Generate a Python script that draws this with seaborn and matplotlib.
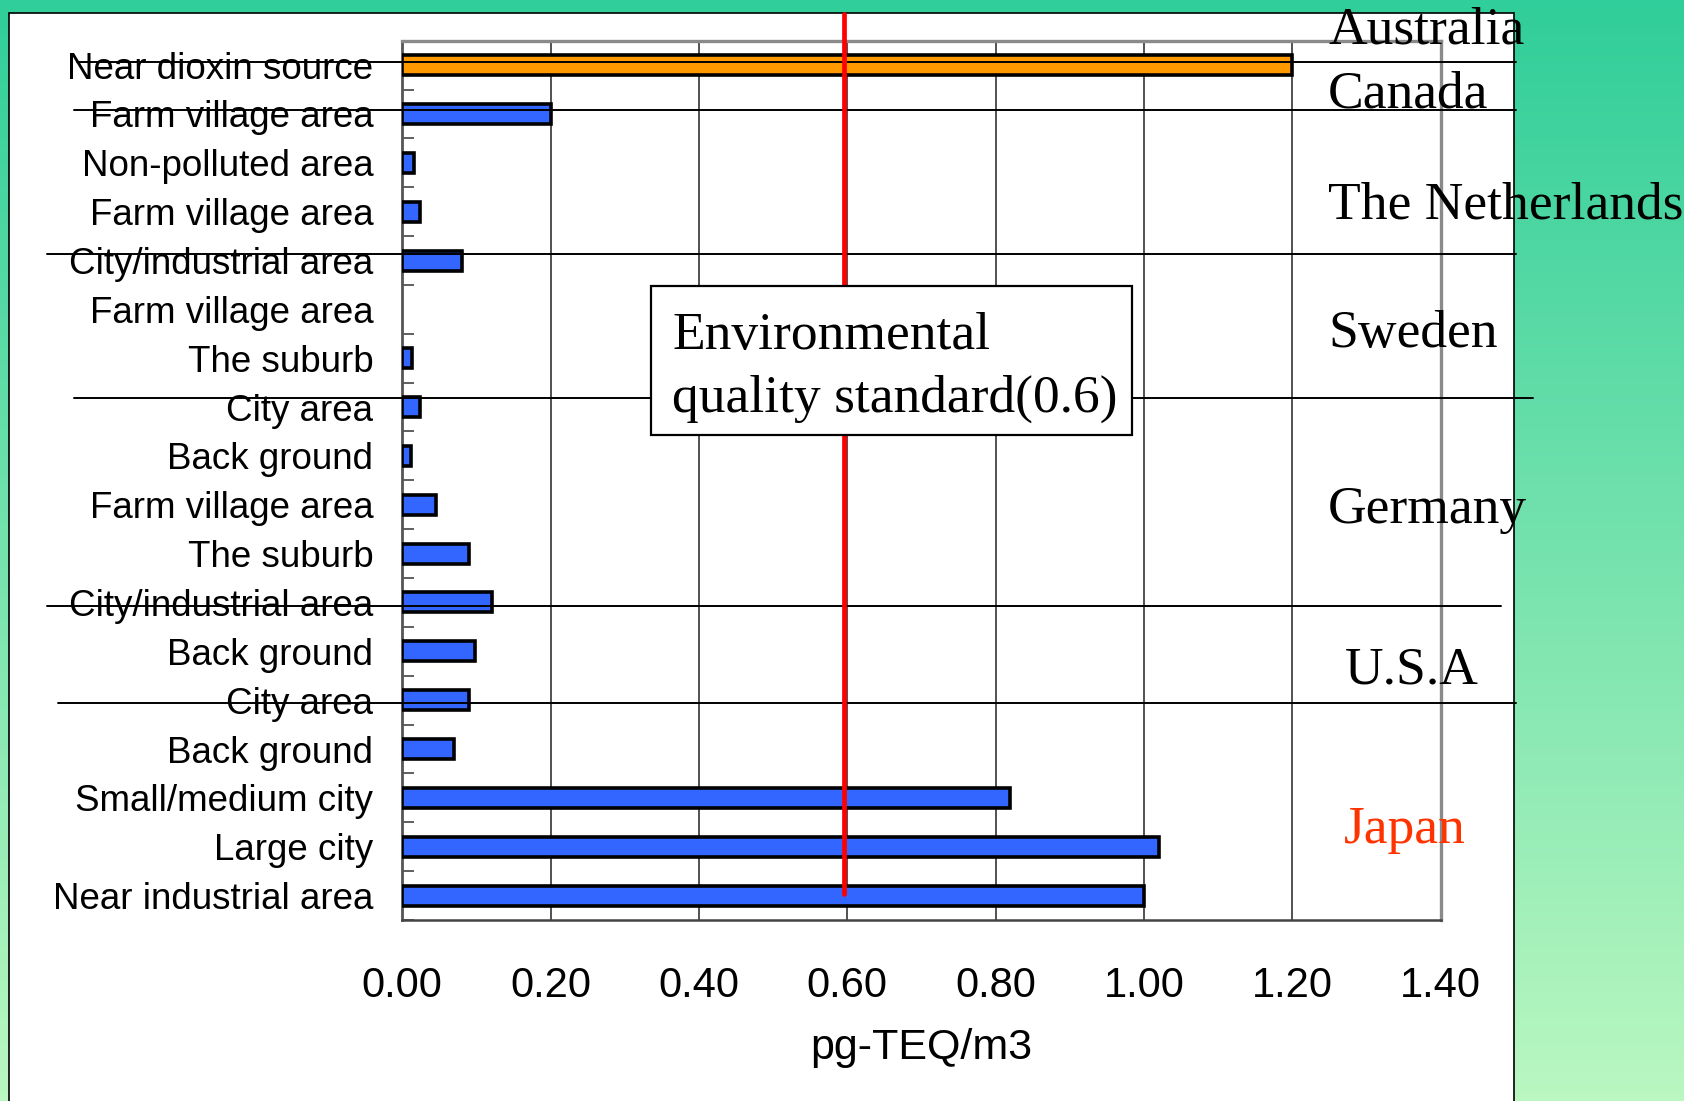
import numpy as np
import pandas as pd
import matplotlib
matplotlib.use("Agg")
import matplotlib.pyplot as plt
from matplotlib.patches import Rectangle
import seaborn as sns

sns.set_style("ticks")
plt.rcParams['font.family'] = ['Liberation Sans', 'DejaVu Sans']
plt.rcParams['text.color'] = 'black'
plt.rcParams['axes.labelcolor'] = 'black'
plt.rcParams['xtick.color'] = 'black'
plt.rcParams['ytick.color'] = 'black'

# data (pg-TEQ/m3), top to bottom
areas = ["Near dioxin source", "Farm village area", "Non-polluted area",
         "Farm village area", "City/industrial area", "Farm village area",
         "The suburb", "City area", "Back ground", "Farm village area",
         "The suburb", "City/industrial area", "Back ground", "City area",
         "Back ground", "Small/medium city", "Large city", "Near industrial area"]
countries = ["Australia", "Canada", "The Netherlands", "The Netherlands",
             "The Netherlands", "Sweden", "Sweden", "Sweden", "Germany",
             "Germany", "Germany", "Germany", "U.S.A", "U.S.A",
             "Japan", "Japan", "Japan", "Japan"]
values = [1.20, 0.20, 0.016, 0.024, 0.081, np.nan, 0.013, 0.024, 0.012, 0.046,
          0.090, 0.121, 0.098, 0.090, 0.070, 0.82, 1.02, 1.00]
country_names = ["Australia", "Canada", "The Netherlands", "Sweden",
                 "Germany", "U.S.A", "Japan"]
standard_label = "Environmental\nquality standard(0.6)"
standard_line = 0.595

keys = [f"{i}|{a}" for i, a in enumerate(areas)]
df = pd.DataFrame({"key": keys, "area": areas, "country": countries, "value": values})
bar_colors = {k: ("#FF9900" if c == "Australia" else "#3366FF")
              for k, c in zip(keys, countries)}

fig = plt.figure(figsize=(16.84, 11.01), dpi=100)

# green gradient background + white slide panel
bg = fig.add_axes([0, 0, 1, 1], zorder=-10)
top_c = np.array([0x30, 0xCE, 0x9A]) / 255
bot_c = np.array([0xBA, 0xF7, 0xC1]) / 255
t = np.linspace(0, 1, 256)[:, None, None]
grad = np.repeat(top_c * (1 - t) + bot_c * t, 2, axis=1)
bg.imshow(grad, aspect='auto', extent=[0, 1, 0, 1])
bg.add_patch(Rectangle((9.3 / 1684, -0.02), (1513.7 - 9.3) / 1684, 1.02 - 12.7 / 1101,
                       transform=bg.transAxes, fc='white', ec='black', lw=1.2))
bg.set_xlim(0, 1)
bg.set_ylim(0, 1)
bg.axis('off')

ax = fig.add_axes([402.3 / 1684, 1 - 920 / 1101, (1440.6 - 402.3) / 1684, (920 - 40.7) / 1101])
ax.set_facecolor('white')

sns.barplot(data=df, x="value", y="key", hue="key", palette=bar_colors, order=keys,
            orient="h", width=0.41, edgecolor="black", linewidth=2.6, saturation=1,
            legend=False, dodge=False, ax=ax, zorder=3)

ax.set_xlim(0, 1.4)
ax.set_ylim(len(keys) - 0.5, -0.5)
ax.set_xticks(np.arange(0, 1.41, 0.2))
ax.set_xticklabels([f"{v:.2f}" for v in np.arange(0, 1.41, 0.2)])
ax.set_yticks(range(len(keys)))
ax.set_yticklabels(areas)
ax.set_yticks(np.arange(-0.5, len(keys), 1), minor=True)
ax.tick_params(axis='y', which='major', length=0, pad=21, labelsize=26.5)
ax.tick_params(axis='y', which='minor', direction='in', length=8.6, width=1.2, color='#444')
ax.tick_params(axis='x', which='major', length=0, pad=33, labelsize=30)
ax.set_ylabel("")
ax.set_xlabel("pg-TEQ/m3", fontsize=31, labelpad=16)
ax.grid(axis='x', color='#222222', lw=1.1, zorder=1)
ax.set_axisbelow(True)

for side, col, lw in [("left", "#555555", 2.0), ("bottom", "#444444", 1.8),
                      ("top", "#8a8a8a", 2.4), ("right", "#8a8a8a", 2.4)]:
    ax.spines[side].set_visible(True)
    ax.spines[side].set_color(col)
    ax.spines[side].set_linewidth(lw)

# country separator lines
seps = [(-0.06, -0.439, 1.502), (0.92, -0.443, 1.502), (3.87, -0.479, 1.502),
        (6.82, -0.443, 1.524), (11.07, -0.479, 1.481), (13.05, -0.464, 1.502)]
for yy, x0, x1 in seps:
    ax.plot([x0, x1], [yy, yy], color='black', lw=1.4, clip_on=False, zorder=5)

# environmental quality standard line
ax.axvline(standard_line, ymin=0.030, ymax=1.030, color='#FF0000', lw=3.4,
           clip_on=False, zorder=6)

# standard label box
ax.add_patch(Rectangle((0.3355, 4.516), 0.984 - 0.3355, 7.572 - 4.516, fc='white',
                       ec='black', lw=1.6, zorder=8, clip_on=False))
for line, yy in zip(standard_label.split("\n"), [5.812, 7.095]):
    ax.text(0.364, yy, line, family=['Liberation Serif', 'DejaVu Serif'], fontsize=38.5,
            va='baseline', ha='left', zorder=9)

# country labels
label_pos = [(1.2485, -0.446), (1.2485, 0.864), (1.2485, 3.136), (1.2485, 5.764),
             (1.2485, 9.367), (1.271, 12.655), (1.2696, 15.930)]
for name, (xx, yy) in zip(country_names, label_pos):
    ax.text(xx, yy, name, family=['Liberation Serif', 'DejaVu Serif'], fontsize=38.5,
            va='baseline', ha='left', clip_on=False, zorder=10,
            color='#FF3300' if name == "Japan" else 'black')

fig.savefig("out.png", dpi=100)
